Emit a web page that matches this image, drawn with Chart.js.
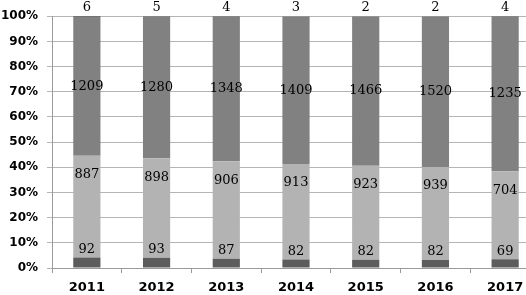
<!DOCTYPE html>
<html>
<head>
<meta charset="utf-8">
<script src="https://cdn.jsdelivr.net/npm/chart.js@4"></script>
<style>
  html, body { margin: 0; padding: 0; background: #fff; overflow: hidden; }
  #wrap { position: relative; width: 540px; height: 295px; }
</style>
</head>
<body>
<div id="wrap"><canvas id="c"></canvas></div>
<script>
const years = ['2011', '2012', '2013', '2014', '2015', '2016', '2017']
const bottomVals = [92, 93, 87, 82, 82, 82, 69]
const lightVals = [887, 898, 906, 913, 923, 939, 704]
const midVals = [1209, 1280, 1348, 1409, 1466, 1520, 1235]
const topVals = [6, 5, 4, 3, 2, 2, 4]
const yTicks = [0, 10, 20, 30, 40, 50, 60, 70, 80, 90, 100]

const raw = [bottomVals, lightVals, midVals, topVals]
const totals = years.map((y, i) => raw.reduce((s, arr) => s + arr[i], 0))
const pct = arr => arr.map((v, i) => v / totals[i] * 100)

// labels drawn by hand, positions per series like the excel original
const labelPlugin = {
  id: 'labels',
  afterDatasetsDraw(chart) {
    const ctx = chart.ctx
    ctx.save()
    ctx.font = '13px "DejaVu Serif"'
    ctx.fillStyle = '#000'
    ctx.textAlign = 'center'
    ctx.textBaseline = 'middle'
    chart.data.datasets.forEach((ds, di) => {
      const meta = chart.getDatasetMeta(di)
      meta.data.forEach((bar, i) => {
        let y
        if (di === 0) y = bar.y - 8
        else if (di === 1) y = bar.y + 19
        else if (di === 2) y = (bar.y + bar.base) / 2
        else y = bar.y - 9
        ctx.fillText(String(raw[di][i]), bar.x, y)
      })
    })
    ctx.restore()
  }
}

new Chart(
  document.getElementById('c'),
  {
    type: 'bar',
    data: {
      labels: years,
      datasets: [
        { data: pct(bottomVals), backgroundColor: '#5c5c5c' },
        { data: pct(lightVals), backgroundColor: '#b3b3b3' },
        { data: pct(midVals), backgroundColor: '#818181' },
        { data: pct(topVals), backgroundColor: '#3f3f3f' }
      ]
    },
    options: {
      responsive: true,
      maintainAspectRatio: false,
      animation: false,
      layout: { padding: { top: 12, right: 0, left: 0, bottom: 0 } },
      datasets: {
        bar: { barPercentage: 0.39, categoryPercentage: 1 }
      },
      scales: {
        x: {
          stacked: true,
          grid: {
            offset: true,
            drawOnChartArea: false,
            drawTicks: true,
            tickLength: 5,
            color: '#9a9a9a'
          },
          border: { color: '#9a9a9a' },
          ticks: {
            color: '#000',
            font: { family: 'DejaVu Sans', weight: 'bold', size: 13 },
            padding: 7
          },
          afterFit(scale) { scale.height = 27 }
        },
        y: {
          stacked: true,
          min: 0,
          max: 100,
          afterBuildTicks(scale) { scale.ticks = yTicks.map(v => ({ value: v })) },
          grid: {
            color: '#b5b5b5',
            tickLength: 5
          },
          border: { color: '#9a9a9a' },
          ticks: {
            color: '#000',
            font: { family: 'DejaVu Sans', weight: 'bold', size: 12 },
            padding: 9,
            callback: v => v + '%'
          },
          afterFit(scale) { scale.width = 52 }
        }
      },
      plugins: {
        legend: { display: false },
        tooltip: { enabled: false }
      }
    },
    plugins: [labelPlugin]
  }
)
</script>
</body>
</html>
